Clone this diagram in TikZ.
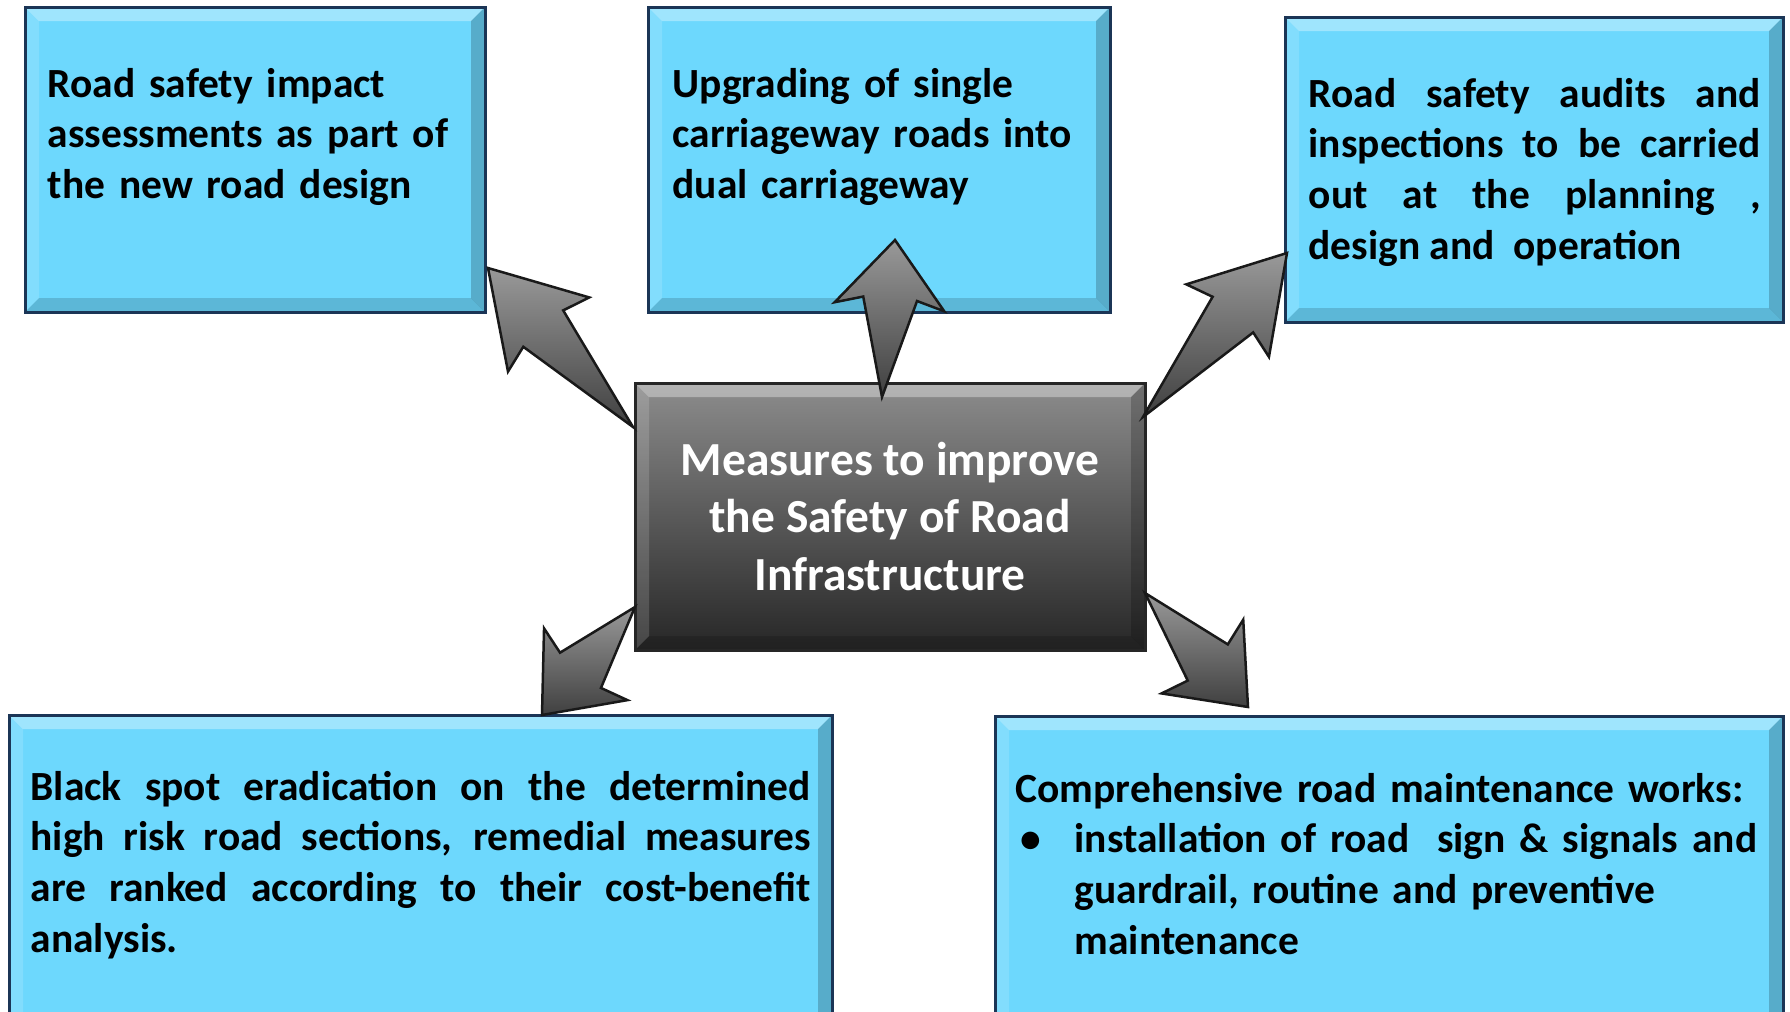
\documentclass[tikz,border=0pt]{standalone}
\usepackage{fontspec}
\setmainfont{Carlito}
\usetikzlibrary{positioning, calc}

\definecolor{skyfill}{HTML}{6DD8FD}
\definecolor{panelline}{HTML}{1B3556}
\definecolor{hubline}{HTML}{262626}

% bevel bands along the edges of a box, then its border again
\newcommand{\bevel}[2]{%
  \fill[white, opacity=.35] (#1.north west) -- (#1.north east) -- ([shift={(-14,14)}]#1.north east) -- ([shift={(14,14)}]#1.north west) -- cycle;
  \fill[white, opacity=.15] (#1.north west) -- ([shift={(14,14)}]#1.north west) -- ([shift={(14,-14)}]#1.south west) -- (#1.south west) -- cycle;
  \fill[black, opacity=.2] (#1.north east) -- ([shift={(-14,14)}]#1.north east) -- ([shift={(-14,-14)}]#1.south east) -- (#1.south east) -- cycle;
  \fill[black, opacity=.15] (#1.south west) -- ([shift={(14,-14)}]#1.south west) -- ([shift={(-14,-14)}]#1.south east) -- (#1.south east) -- cycle;
  \draw[#2, line width=.3mm] (#1.north west) rectangle (#1.south east);
}

% block arrow: tail, tip, head length, notch distance
\newcommand{\blockarrow}[4]{%
  \path ($(#2)!#3!(#1)$) coordinate (hb) ($(#2)!#4!(#1)$) coordinate (hn);
  \draw[arrowbody] (#1) -- ($(hn)!2.7mm!-90:(#2)$) -- ($(hb)!5.5mm!-90:(#2)$) -- (#2)
    -- ($(hb)!5.5mm!90:(#2)$) -- ($(hn)!2.7mm!90:(#2)$) -- cycle;
}

\begin{document}
\begin{tikzpicture}[x=0.1mm, y=-0.1mm]

\path[use as bounding box] (0,0) rectangle (1790,1012);
\clip (0,0) rectangle (1790,1012);

\tikzstyle{panel}=[draw=panelline, line width=.3mm, fill=skyfill, shape=rectangle, inner sep=0pt, outer sep=0pt];
\tikzstyle{hubbox}=[draw=hubline, line width=.3mm, top color=black!45, bottom color=black!85, shape=rectangle,
inner sep=0pt, outer sep=0pt, text=white, align=center, font=\fontsize{13.5}{16.4}\selectfont\bfseries];
\tikzstyle{ltext}=[anchor=base west, inner sep=0pt, font=\fontsize{11.8}{14.5}\selectfont\bfseries, align=left];
\tikzstyle{arrowbody}=[draw=black!90, line width=.25mm, top color=black!40, bottom color=black!75];

\node[panel, minimum width=46mm, minimum height=30.5mm] (b1) at (255,159.5) {};
\node[panel, minimum width=46.2mm, minimum height=30.5mm] (b2) at (879,159.5) {};
\node[panel, minimum width=49.8mm, minimum height=30.5mm] (b3) at (1534,169.5) {};
\node[panel, minimum width=82.3mm, minimum height=32.5mm] (b4) at (420.5,877.5) {};
\node[panel, minimum width=78.8mm, minimum height=32.4mm] (b5) at (1389,878) {};
\node[hubbox, minimum width=51mm, minimum height=26.7mm] (hub) at (890,516.5) {Measures to improve\\the Safety of Road\\Infrastructure};

\bevel{b1}{panelline}
\bevel{b2}{panelline}
\bevel{b3}{panelline}
\bevel{b4}{panelline}
\bevel{b5}{panelline}
\bevel{hub}{hubline}

\node[ltext, text width=43mm] (l1) at ([shift={(22,90)}]b1.north west) {Road safety impact\\assessments as part of\\the new road design};
\node[ltext, text width=43mm] (l2) at ([shift={(24,90)}]b2.north west) {Upgrading of single\\carriageway roads into\\dual carriageway};
\node[ltext, text width=45.2mm, align=justify] (l3) at ([shift={(23,90)}]b3.north west)
{\hyphenpenalty=10000 Road safety audits and\linebreak inspections to be carried\linebreak out at the planning ,\linebreak design and\ \ operation};
\node[ltext, text width=78mm, align=justify] (l4) at ([shift={(21,85)}]b4.north west)
{\hyphenpenalty=10000 Black spot eradication on the determined\linebreak high risk road sections, remedial measures\linebreak are ranked according to their cost-benefit\linebreak analysis.};
\node[ltext, text width=76mm] (l5) at ([shift={(20,86)}]b5.north west)
{Comprehensive road maintenance works:\\
\hspace*{.5mm}\makebox[5.4mm][l]{\textbullet}\parbox[t]{70mm}{installation of road\ \ sign \& signals and\\guardrail, routine and preventive\\maintenance}};

% arrows
\coordinate (s1) at ([shift={(-2,44)}]hub.north west);
\coordinate (e1) at ([shift={(3,-44)}]b1.south east);
\coordinate (s2) at ([shift={(-8,14)}]hub.north);
\coordinate (e2) at ([shift={(16,-72)}]b2.south);
\coordinate (s3) at ([shift={(-2,34)}]hub.north east);
\coordinate (e3) at ([shift={(2,-69)}]b3.south west);
\coordinate (s4) at ([shift={(0,-43)}]hub.south west);
\coordinate (e4) at ([shift={(121.5,0)}]b4.north);
\coordinate (s5) at ([shift={(0,-57)}]hub.south east);
\coordinate (e5) at ([shift={(253,-9)}]b5.north west);

\blockarrow{s1}{e1}{9mm}{8.2mm}
\blockarrow{s2}{e2}{6.7mm}{5.9mm}
\blockarrow{s3}{e3}{9mm}{8.2mm}
\blockarrow{s4}{e4}{6.7mm}{5.9mm}
\blockarrow{s5}{e5}{6.8mm}{6mm}

\end{tikzpicture}
\end{document}
